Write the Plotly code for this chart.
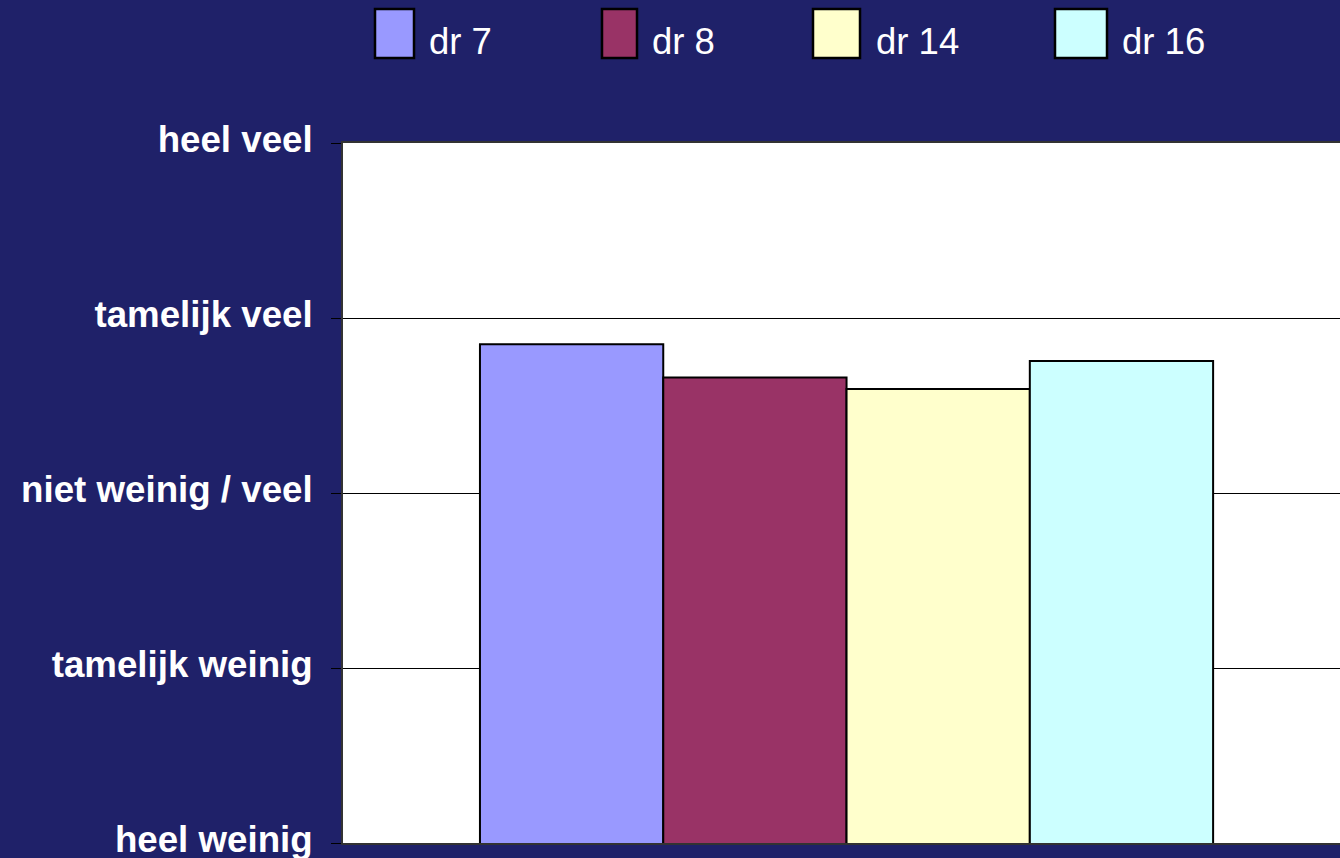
import plotly.graph_objects as go

# ---- data ----
series_names = ["dr 7", "dr 8", "dr 14", "dr 16"]
series_values = [3.85, 3.66, 3.595, 3.755]
series_colors = ["#9999FF", "#993366", "#FFFFCC", "#CCFFFF"]
category = [" "]
tick_values = [1, 2, 3, 4, 5]
tick_labels = ["heel weinig", "tamelijk weinig", "niet weinig / veel", "tamelijk veel", "heel veel"]

BG = "#1F2169"
W, H = 1340, 858
L, T, B = 343, 143, 15
PW, PH = W - L, H - T - B

def px_x(p):
    return (p - L) / PW

def px_y(p):
    return (H - B - p) / PH

fig = go.Figure()
for name, val, col in zip(series_names, series_values, series_colors):
    fig.add_trace(go.Bar(
        x=category, y=[val], name=name,
        marker=dict(color=col, line=dict(color="#000000", width=2)),
        showlegend=False,
    ))

# custom legend (large swatches like the original)
legend_swatches = [(375, 414), (602, 637), (813, 860), (1055, 1107)]
legend_text_x = [430, 653, 877, 1123]
shapes = []
annotations = []
for (x0, x1), tx, name, col in zip(legend_swatches, legend_text_x, series_names, series_colors):
    shapes.append(dict(type="rect", xref="paper", yref="paper",
                       x0=px_x(x0), x1=px_x(x1), y0=px_y(58), y1=px_y(9),
                       fillcolor=col, line=dict(color="#000000", width=2.5)))
    annotations.append(dict(xref="paper", yref="paper", x=px_x(tx - 3), y=px_y(41),
                            xanchor="left", yanchor="middle", showarrow=False,
                            text=name,
                            font=dict(family="Liberation Sans, Arial", size=36.5, color="#FFFFFF")))

fig.update_layout(
    width=W, height=H,
    margin=dict(l=L, r=0, t=T, b=B, pad=0, autoexpand=False),
    paper_bgcolor=BG,
    plot_bgcolor="#FFFFFF",
    barmode="group",
    bargap=0.272,
    bargroupgap=0,
    shapes=shapes,
    annotations=annotations,
    xaxis=dict(
        range=[-0.5, 0.49],
        showticklabels=False,
        ticks="",
        showgrid=False,
        zeroline=False,
        showline=True, linecolor="#333333", linewidth=2, mirror=True,
        fixedrange=True,
        automargin=False,
    ),
    yaxis=dict(
        range=[1, 5],
        tickvals=tick_values,
        ticktext=tick_labels,
        tickfont=dict(family="Liberation Sans, Arial", size=36.7, color="#FFFFFF", weight="bold"),
        ticks="outside", ticklen=10, tickcolor="#000000", tickwidth=1,
        ticklabelstandoff=11,
        ticklabelshift=-4,
        ticklabeloverflow="allow",
        showgrid=True, gridcolor="#000000", gridwidth=1,
        zeroline=False,
        showline=True, linecolor="#333333", linewidth=2,
        fixedrange=True,
        automargin=False,
    ),
)

fig.write_html(
    "out.html",
    config={"displayModeBar": False},
    post_script="document.body.style.margin='0px';document.body.style.background='%s';"
                "document.body.style.overflow='hidden';" % BG,
)
